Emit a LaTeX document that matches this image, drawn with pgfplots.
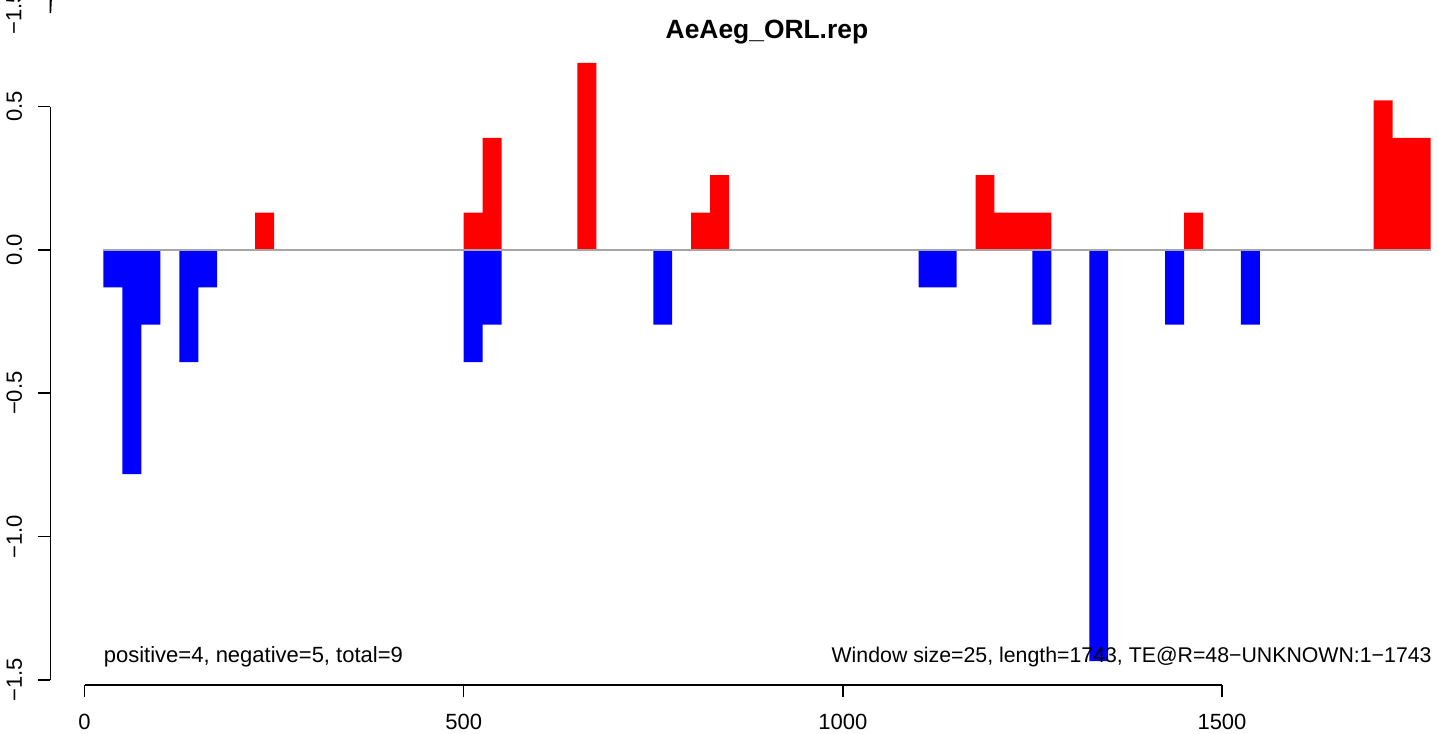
\documentclass[border=0pt]{standalone}
\usepackage{fontspec}
\setmainfont{Liberation Sans}
\usepackage{pgfplots}
\pgfplotsset{compat=1.18}
\definecolor{zgray}{HTML}{A6A6A6}
\begin{document}
\fontsize{11}{13}\selectfont
\begin{tikzpicture}
\useasboundingbox (0,0) rectangle (719.5pt,366.5pt);
\clip (0,0) rectangle (719.5pt,366.5pt);
\begin{axis}[
  at={(25.2pt,24pt)}, anchor=south west,
  scale only axis, width=694.3pt, height=342.5pt,
  xmin=-45, xmax=1786.2, ymin=-1.518, ymax=0.872,
  clip=false,
  axis line style={draw=none},
  xtick={0,500,1000,1500}, xticklabels={0,500,1000,1500},
  ytick={-1.5,-1,-0.5,0,0.5}, yticklabels={−1.5,−1.0,−0.5,0.0,0.5},
  xtick pos=left, ytick pos=left,
  tick align=outside, major tick length=6pt,
  tick style={line width=0.75pt, black},
  xticklabel style={anchor=center, inner sep=0pt, yshift=-12.6pt},
  yticklabel style={rotate=90, anchor=center, yshift=12pt},
  ybar, bar width=25, bar shift=0pt,
]
\addplot[draw=none, fill=red] coordinates {
 (237.5,0.1304) (512.5,0.1304) (537.5,0.3913) (662.5,0.6522)
 (812.5,0.1304) (837.5,0.2609) (1187.5,0.2609) (1212.5,0.1304)
 (1237.5,0.1304) (1262.5,0.1304) (1462.5,0.1304) (1712.5,0.5217)
 (1737.5,0.3913) (1762.5,0.3913)};
\addplot[draw=none, fill=blue] coordinates {
 (37.5,-0.1304) (62.5,-0.7826) (87.5,-0.2609) (137.5,-0.3913)
 (162.5,-0.1304) (512.5,-0.3913) (537.5,-0.2609) (762.5,-0.2609)
 (1112.5,-0.1304) (1137.5,-0.1304) (1262.5,-0.2609) (1337.5,-1.4348)
 (1437.5,-0.2609) (1537.5,-0.2609)};
\addplot[sharp plot, zgray, line width=1pt, forget plot] coordinates {(25,0) (1775,0)};
% R-style axis lines spanning tick range
\draw[line width=0.75pt] (axis cs:0,-1.518) -- (axis cs:1500,-1.518);
\draw[line width=0.75pt] (axis cs:-45,-1.5) -- (axis cs:-45,0.5);
% remnant of the panel above
\draw[line width=0.75pt] (axis cs:-45,0.9) -- (axis cs:-45,0.8266) -- ++(-6pt,0);
\node[rotate=90, anchor=center] at ([xshift=-18.2pt]axis cs:-45,0.8266) {−1.5};
% annotations
\node[anchor=base west, inner sep=0pt] at (axis cs:25,-1.4405) {positive=4, negative=5, total=9};
\node[anchor=base east, inner sep=0pt, font=\fontsize{10.65}{13}\selectfont] at (axis cs:1777,-1.4405) {Window size=25, length=1743, TE@R=48−UNKNOWN:1−1743};
\node[anchor=base, inner sep=0pt, font=\fontsize{13.2}{15}\selectfont\bfseries] at (rel axis cs:0.516,0.9445) {AeAeg\_ORL.rep};
\end{axis}
\end{tikzpicture}
\end{document}
